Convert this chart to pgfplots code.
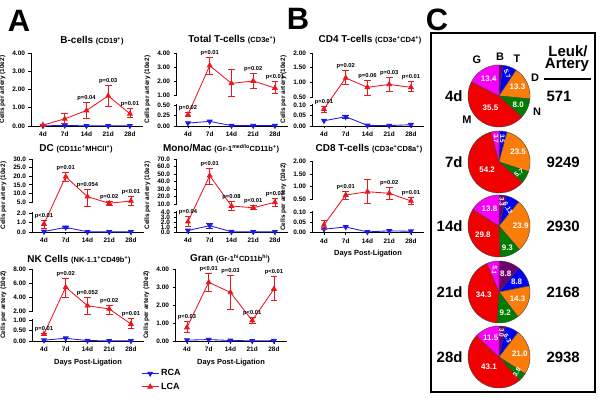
\documentclass[border=0pt]{standalone}
\usepackage{fontspec}
\setmainfont{Liberation Sans}
\usepackage{pgfplots}
\pgfplotsset{compat=1.18}

\definecolor{lca}{RGB}{232,24,32}
\definecolor{rca}{RGB}{28,28,230}
\definecolor{pB}{RGB}{110,0,110}
\definecolor{pT}{RGB}{0,0,245}
\definecolor{pD}{RGB}{250,125,10}
\definecolor{pN}{RGB}{0,125,0}
\definecolor{pM}{RGB}{240,0,0}
\definecolor{pG}{RGB}{250,0,250}

\newcommand\fs[1]{\fontsize{#1}{#1}\selectfont}

\tikzset{
  pv/.style={font=\fs{5.8}\bfseries, anchor=south, inner sep=0.5bp, yshift=1bp},
  pielab/.style={text=white, inner sep=0pt},
}

\pgfplotsset{
  panel/.style={
    scale only axis, width=112bp, height=73bp, anchor=south west,
    axis lines=left, axis line style={-, line width=0.8bp},
    xmin=0.45, xmax=5.6, ymin=0, enlargelimits=false, clip=false,
    xtick={1,2,3,4,5}, xticklabels={4d,7d,14d,21d,28d},
    tick align=outside, major tick length=2.5bp,
    tick style={line width=0.7bp, black},
    tick label style={font=\fs{6.5}\bfseries},
    ylabel={Cells per artery (10e2)},
    ylabel style={font=\fs{6.5}\bfseries},
    xlabel style={font=\fs{7.5}\bfseries},
    every axis plot/.append style={line width=0.85bp},
  },
  brk/.style n args={6}{
    y coord trafo/.code={\pgfmathparse{(##1<=#1)?(##1*#2/#1):((##1<=#3)?(#2+(##1-#1)*(#4-#2)/(#3-#1)):(#4+(##1-#3)*(#6-#4)/(#5-#3)))}},
    y coord inv trafo/.code={\pgfmathparse{(##1<=#2)?(##1*#1/#2):((##1<=#4)?(#1+(##1-#2)*(#3-#1)/(#4-#2)):(#3+(##1-#4)*(#5-#3)/(#6-#4)))}},
    ymax=#5, height=#6bp,
    after end axis/.append code={\fill[white] ([xshift=-3bp,yshift=#2bp+0.6bp]rel axis cs:0,0) rectangle ([xshift=3bp,yshift=#4bp-0.6bp]rel axis cs:0,0);},
  },
  lcaS/.style={lca, mark=triangle*, mark size=2.7bp},
  rcaS/.style={rca, mark=triangle*, mark size=2.7bp, mark options={rotate=180}},
  eb/.style={mark=-, mark size=3.3bp, line width=0.75bp, forget plot},
  pie/.style={hide axis, scale only axis, width=62bp, height=62bp,
    xmin=-1, xmax=1, ymin=-1, ymax=1, anchor=center, clip=false},
}

% error bars: x/low/high
\newcommand\ebars[2]{\foreach \xx/\lo/\hi in {#2}{%
  \edef\tmp{\noexpand\addplot[eb,#1] coordinates {(\xx,\lo) (\xx,\hi)};}\tmp}}
% p values: x/y/text
\newcommand\pv[1]{\foreach \xx/\yy/\lab in {#1}{%
  \edef\tmp{\noexpand\node[pv] at (axis cs:\xx,\yy) {\lab};}\tmp}}

% pie slices, clockwise from the top: B T D N M G
\newcommand\pieslice[3]{\edef\tmp{\noexpand\addplot[draw=black!75, line width=0.4bp, fill=#1, domain=#2:#3, samples=40] ({sin(x)},{cos(x)}) -- (axis cs:0,0) -- cycle;}\tmp}
\newcommand\pievals[6]{%
  \pgfmathsetmacro\ptot{#1+#2+#3+#4+#5+#6}%
  \pgfmathsetmacro\sB{((#1)/\ptot)*360}%
  \pgfmathsetmacro\sC{\sB+((#2)/\ptot)*360}%
  \pgfmathsetmacro\sD{\sC+((#3)/\ptot)*360}%
  \pgfmathsetmacro\sE{\sD+((#4)/\ptot)*360}%
  \pgfmathsetmacro\sF{\sE+((#5)/\ptot)*360}%
  \pieslice{pB}{0}{\sB}\pieslice{pT}{\sB}{\sC}\pieslice{pD}{\sC}{\sD}%
  \pieslice{pN}{\sD}{\sE}\pieslice{pM}{\sE}{\sF}\pieslice{pG}{\sF}{360}}
% label: start, end, text, rotation, radius, font size
\newcommand\plab[6]{%
  \pgfmathsetmacro\pmid{(#1+#2)/2}%
  \pgfmathsetmacro\plx{#5*sin(\pmid)}%
  \pgfmathsetmacro\ply{#5*cos(\pmid)}%
  \edef\tmp{\noexpand\node[pielab, rotate=#4, font=\noexpand\fs{#6}\noexpand\bfseries] at (axis cs:\plx,\ply) {#3};}\tmp}

\begin{document}
\begin{tikzpicture}[x=1bp, y=1bp]
\useasboundingbox (0bp,0bp) rectangle (600bp,400bp);

% ---------- panel letters and titles
\node at (19bp,379bp) {\fs{31}\bfseries A};
\node at (298bp,381bp) {\fs{31}\bfseries B};
\node at (437bp,380bp) {\fs{31}\bfseries C};

\node[anchor=base] at (92bp,356bp) {\fs{10}\bfseries B-cells \fs{7.5}(CD19\textsuperscript{+})};
\node[anchor=base] at (232bp,357bp) {\fs{10}\bfseries Total T-cells \fs{7.5}(CD3e\textsuperscript{+})};
\node[anchor=base] at (370bp,357bp) {\fs{10}\bfseries CD4 T-cells \fs{7.5}(CD3e\textsuperscript{+}CD4\textsuperscript{+})};
\node[anchor=base] at (76bp,248bp) {\fs{10}\bfseries DC \fs{7.5}(CD11c\textsuperscript{+}MHCII\textsuperscript{+})};
\node[anchor=base] at (221bp,248bp) {\fs{10}\bfseries Mono/Mac \fs{7.5}(Gr-1\textsuperscript{med/lo}CD11b\textsuperscript{+})};
\node[anchor=base] at (369bp,248bp) {\fs{10}\bfseries CD8 T-cells \fs{7.5}(CD3e\textsuperscript{+}CD8a\textsuperscript{+})};
\node[anchor=base] at (79bp,137bp) {\fs{10}\bfseries NK Cells \fs{7.5}(NK-1.1\textsuperscript{+}CD49b\textsuperscript{+})};
\node[anchor=base] at (230bp,138bp) {\fs{10}\bfseries Gran \fs{7.5}(Gr-1\textsuperscript{hi}CD11b\textsuperscript{hi})};

% ---------- B-cells
\begin{axis}[panel, at={(31bp,274bp)}, ymax=4, height=73bp,
  ytick={0,1,2,3,4}, yticklabels={0.00,1.00,2.00,3.00,4.00}]
\addplot[rcaS] coordinates {(1,0.01) (2,0.03) (3,0.01) (4,0.01) (5,0.01)};
\addplot[lcaS] coordinates {(1,0.05) (2,0.39) (3,0.85) (4,1.65) (5,0.67)};
\ebars{lca}{1/0.02/0.08, 2/0.12/0.67, 3/0.40/1.30, 4/1.06/2.24, 5/0.48/0.94}
\pv{3/1.30/p=0.04, 4/2.24/p=0.03, 5/0.94/p=0.01}
\end{axis}

% ---------- Total T-cells
\begin{axis}[panel, at={(176bp,274bp)}, brk={0.5}{21}{1}{31}{4}{73},
  ytick={0,0.25,0.5,1,2,3,4}, yticklabels={0.00,0.25,0.50,1.00,2.00,3.00,4.00}]
\addplot[rcaS] coordinates {(1,0.07) (2,0.11) (3,0.01) (4,0.01) (5,0.01)};
\addplot[lcaS] coordinates {(1,0.27) (2,3.10) (3,1.83) (4,2.00) (5,1.50)};
\ebars{lca}{1/0.22/0.33, 2/2.45/3.70, 3/0.95/2.80, 4/1.50/2.55, 5/1.15/1.95}
\pv{1/0.33/p=0.02, 2/3.70/p=0.01, 4/2.55/p=0.02, 5/1.95/p<0.01}
\end{axis}

% ---------- CD4 T-cells
\begin{axis}[panel, at={(312bp,274bp)}, brk={0.1}{21}{0.5}{29}{2}{73},
  ytick={0,0.05,0.1,0.5,1,1.5,2}, yticklabels={0.00,0.05,0.10,0.50,1.00,1.50,2.00}]
\addplot[rcaS] coordinates {(1,0.025) (2,0.044) (3,0.003) (4,0.002) (5,0.006)};
\addplot[lcaS] coordinates {(1,0.081) (2,1.15) (3,0.83) (4,0.93) (5,0.83)};
\ebars{rca}{2/0.036/0.052}
\ebars{lca}{1/0.067/0.095, 2/0.94/1.42, 3/0.57/1.08, 4/0.68/1.17, 5/0.68/1.02}
\pv{1/0.095/p=0.01, 2/1.42/p=0.02, 3/1.08/p=0.06, 4/1.17/p=0.03, 5/1.02/p=0.01}
\end{axis}

% ---------- DC
\begin{axis}[panel, at={(32bp,168bp)}, brk={2}{19}{5}{30}{30}{73},
  ytick={0,1,2,5,10,15,20,25,30}, yticklabels={0.0,1.0,2.0,5.0,10.0,15.0,20.0,25.0,30.0}]
\addplot[rcaS] coordinates {(1,0.05) (2,0.49) (3,0.02) (4,0.01) (5,0.01)};
\addplot[lcaS] coordinates {(1,0.84) (2,19.7) (3,8.1) (4,4.65) (5,5.6)};
\ebars{rca}{2/0.37/0.61}
\ebars{lca}{1/0.39/1.26, 2/16.8/22.0, 3/3.7/12.4, 4/4.2/5.6, 5/4.2/8.1}
\pv{1/1.26/p<0.01, 2/22.0/p=0.01, 3/12.4/p=0.054, 4/5.6/p=0.02, 5/8.1/p<0.01}
\end{axis}

% ---------- Mono/Mac
\begin{axis}[panel, at={(176bp,168bp)}, brk={4}{20}{10}{28}{70}{73},
  ytick={0,1,2,3,4,10,20,30,40,50,60,70},
  yticklabels={0.0,1.0,2.0,3.0,4.0,10.0,20.0,30.0,40.0,50.0,60.0,70.0}]
\addplot[rcaS] coordinates {(1,0.3) (2,1.27) (3,0.05) (4,0.03) (5,0.03)};
\addplot[lcaS] coordinates {(1,2.07) (2,47.8) (3,8.5) (4,7.2) (5,12.3)};
\ebars{rca}{2/0.8/1.75}
\ebars{lca}{1/1.07/3.07, 2/36.2/57.6, 3/5.5/13.1, 4/6.3/8.7, 5/8.0/17.6}
\pv{1/3.07/p=0.04, 2/57.6/p<0.01, 3/13.1/p=0.08, 4/8.7/p<0.01, 5/17.6/p=0.03}
\end{axis}

% ---------- CD8 T-cells
\begin{axis}[panel, at={(312bp,167.5bp)}, brk={0.1}{20.5}{0.5}{33.5}{2}{71},
  ytick={0,0.05,0.1,0.5,1,1.5,2}, yticklabels={0.00,0.05,0.10,0.50,1.00,1.50,2.00},
  xlabel={Days Post-Ligation}]
\addplot[rcaS] coordinates {(1,0.016) (2,0.027) (3,0.003) (4,0.008) (5,0.006)};
\addplot[lcaS] coordinates {(1,0.037) (2,0.66) (3,0.79) (4,0.73) (5,0.44)};
\ebars{lca}{1/0.016/0.058, 2/0.5/0.82, 3/0.35/1.29, 4/0.5/0.95, 5/0.34/0.55}
\pv{2/0.82/p<0.01, 4/0.95/p=0.02, 5/0.55/p=0.01}
\end{axis}

% ---------- NK cells
\begin{axis}[panel, at={(32bp,59bp)}, brk={1}{21}{2}{30}{8}{72},
  ytick={0,0.5,1,2,4,6,8}, yticklabels={0.00,0.50,1.00,2.00,4.00,6.00,8.00},
  xlabel={Days Post-Ligation}]
\addplot[rcaS] coordinates {(1,0.04) (2,0.13) (3,0.02) (4,0.01) (5,0.01)};
\addplot[lcaS] coordinates {(1,0.33) (2,5.4) (3,2.76) (4,2.29) (5,0.81)};
\ebars{lca}{1/0.29/0.37, 2/3.9/6.67, 3/1.63/3.96, 4/1.67/2.86, 5/0.6/1.19}
\pv{1/0.37/p=0.01, 2/6.67/p=0.02, 3/3.96/p=0.052, 4/2.86/p=0.02, 5/1.19/p=0.01}
\end{axis}

% ---------- Gran
\begin{axis}[panel, at={(175bp,59bp)}, ymax=4, height=72bp,
  ytick={0,1,2,3,4}, yticklabels={0.00,1.00,2.00,3.00,4.00},
  xlabel={Days Post-Ligation},
  legend style={at={(axis description cs:-0.33,-0.34)}, anchor=north west,
    draw=none, fill=none, font=\fs{9}\bfseries, row sep=1.5bp},
  legend cell align=left]
\addplot[rcaS] coordinates {(1,0.05) (2,0.08) (3,0.03) (4,0.01) (5,0.02)};
\addplot[lcaS] coordinates {(1,0.75) (2,3.26) (3,2.7) (4,1.13) (5,2.89)};
\ebars{lca}{1/0.48/1.07, 2/2.78/3.76, 3/1.78/3.63, 4/0.98/1.3, 5/2.24/3.57}
\pv{1/1.07/p=0.03, 2/3.76/p<0.01, 3/3.63/p=0.03, 4/1.3/p<0.01, 5/3.57/p<0.01}
\legend{RCA,LCA}
\end{axis}

% ---------- panel C: composition pies
\draw[line width=2.5bp] (431bp,8bp) rectangle (595bp,367bp);
\node at (568bp,349bp) {\fs{15}\bfseries Leuk/};
\node at (567bp,335bp) {\fs{15}\bfseries Artery};
\draw[line width=1.3bp] (544bp,321bp) -- (591bp,321bp);

\begin{axis}[pie, at={(499bp,304bp)}]
\pievals{1.5}{5.7}{13.3}{8.0}{35.5}{13.4}
\plab{\sB}{\sC}{5.7}{-70}{0.76}{6.5}
\plab{\sC}{\sD}{13.3}{0}{0.66}{8}
\plab{\sD}{\sE}{8.0}{0}{0.68}{8}
\plab{\sE}{\sF}{35.5}{0}{0.48}{8}
\plab{\sF}{360}{13.4}{0}{0.64}{8}
\end{axis}
\begin{axis}[pie, at={(499bp,238bp)}]
\pievals{0.3}{3.5}{23.5}{5.7}{54.2}{3.7}
\plab{\sB}{\sC}{3.5}{-90}{0.76}{6.5}
\plab{\sC}{\sD}{23.5}{0}{0.7}{8}
\plab{\sD}{\sE}{5.7}{35}{0.74}{7}
\plab{\sE}{\sF}{54.2}{0}{0.45}{8}
\plab{\sF}{360}{3.7}{-90}{0.76}{6.5}
\end{axis}
\begin{axis}[pie, at={(499bp,174bp)}]
\pievals{3.3}{6.13}{23.9}{9.3}{29.8}{13.8}
\plab{0}{\sB}{3.3}{-90}{0.78}{6.5}
\plab{\sB}{\sC}{6.13}{-60}{0.64}{6.5}
\plab{\sC}{\sD}{23.9}{0}{0.7}{8}
\plab{\sD}{\sE}{9.3}{0}{0.74}{8}
\plab{\sE}{\sF}{29.8}{0}{0.6}{8}
\plab{\sF}{360}{13.8}{0}{0.64}{8}
\end{axis}
\begin{axis}[pie, at={(499bp,108bp)}]
\pievals{8.8}{8.8}{14.3}{9.2}{34.3}{5.1}
\plab{0}{\sB}{8.8}{0}{0.64}{8}
\plab{\sB}{\sC}{8.8}{0}{0.66}{8}
\plab{\sC}{\sD}{14.3}{0}{0.64}{8}
\plab{\sD}{\sE}{9.2}{0}{0.7}{8}
\plab{\sE}{\sF}{34.3}{0}{0.5}{8}
\plab{\sF}{360}{5.1}{-100}{0.72}{6.5}
\end{axis}
\begin{axis}[pie, at={(499bp,43bp)}]
\pievals{3.0}{6.3}{21.0}{3.8}{43.1}{11.5}
\plab{0}{\sB}{3.0}{-90}{0.78}{6.5}
\plab{\sB}{\sC}{6.3}{-60}{0.66}{6.5}
\plab{\sC}{\sD}{21.0}{0}{0.68}{8}
\plab{\sD}{\sE}{3.8}{55}{0.76}{6.5}
\plab{\sE}{\sF}{43.1}{0}{0.45}{8}
\plab{\sF}{360}{11.5}{0}{0.68}{8}
\end{axis}

% letters round the first pie
\node at (477bp,340bp) {\fs{11}\bfseries G};
\node at (500bp,343bp) {\fs{11}\bfseries B};
\node at (517bp,341bp) {\fs{11}\bfseries T};
\node at (535bp,322bp) {\fs{11}\bfseries D};
\node at (537bp,288bp) {\fs{11}\bfseries N};
\node at (467bp,280bp) {\fs{11}\bfseries M};

% days and totals
\foreach \yy/\dd/\nn in {304/4d/571, 238/7d/9249, 174/14d/2930, 108/21d/2168, 43/28d/2938}{
  \node[anchor=east] at (466bp,\yy bp) {\fs{15}\bfseries \dd};
  \node[anchor=west] at (543bp,\yy bp) {\fs{15}\bfseries \nn};
}
\end{tikzpicture}
\end{document}
